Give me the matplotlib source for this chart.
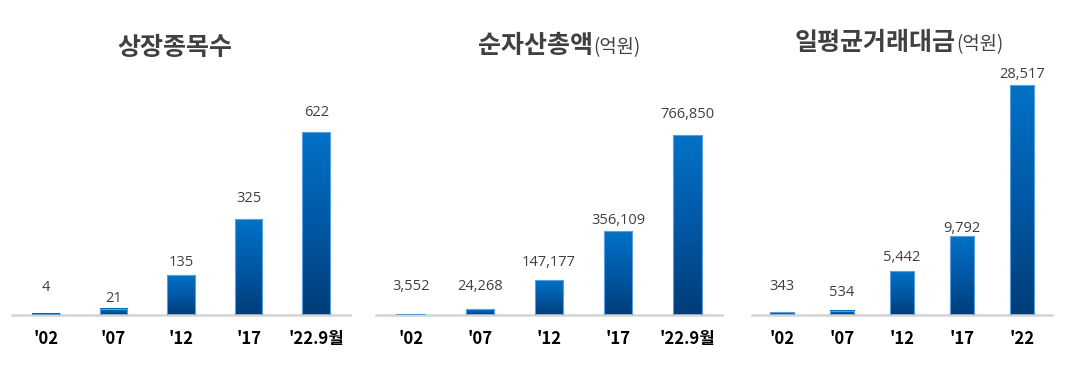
import numpy as np
import matplotlib
matplotlib.use('Agg')
import matplotlib.pyplot as plt
from matplotlib.colors import LinearSegmentedColormap

# data
years_a = ["'02", "'07", "'12", "'17", "'22.9월"]
years_c = ["'02", "'07", "'12", "'17", "'22"]
listed = [4, 21, 135, 325, 622]
net_assets = [3552, 24268, 147177, 356109, 766850]
daily_value = [343, 534, 5442, 9792, 28517]

titles = ['상장종목수', '순자산총액', '일평균거래대금']
units = ['', '(억원)', '(억원)']

plt.rcParams['font.family'] = ['Noto Sans CJK KR', 'DejaVu Sans']

fig = plt.figure(figsize=(10.78, 3.91), dpi=100)

# axes boxes in pixels (left, width) and pixel height of tallest bar
W, H = 1078, 391
boxes = [(12, 338), (376, 346), (752, 300)]
base_px = 315
top_px = 84
max_bar_px = [183, 180, 230]
label_gap_px = [[26, 10, 13, 21, 19],
                [28, 23, 18, 11, 20],
                [26, 18, 14, 8, 10]]
title_pos = [(175, 48, 'center'), (478, 46, 'left'), (795, 43, 'left')]

cmap = LinearSegmentedColormap.from_list('bar', ['#003d78', '#0058a6', '#0072c6'])
grad = np.linspace(0, 1, 256).reshape(-1, 1)

panels = [(years_a, listed), (years_a, net_assets), (years_c, daily_value)]

for i, (labels, vals) in enumerate(panels):
    left, width = boxes[i]
    ax = fig.add_axes([left / W, (H - base_px) / H, width / W, (base_px - top_px) / H])
    x = np.arange(len(vals))
    bw = 0.41
    bars = ax.bar(x, vals, width=bw, color='none', edgecolor='#5aa0e0', linewidth=0.8, zorder=3)
    for b in bars:
        x0, h = b.get_x(), b.get_height()
        ax.imshow(grad, extent=[x0, x0 + bw, 0, h], origin='lower', cmap=cmap,
                  aspect='auto', zorder=2, interpolation='bicubic')
    ymax = max(vals) * (base_px - top_px) / max_bar_px[i]
    ax.set_xlim(-0.5, len(vals) - 0.5)
    ax.set_ylim(0, ymax)
    for j, v in enumerate(vals):
        ax.annotate(f'{v:,}', (x[j], v), xytext=(0, label_gap_px[i][j] * 0.72),
                    textcoords='offset points', ha='center', va='center',
                    fontsize=10.5, color='#404040', family=['Open Sans', 'DejaVu Sans'])
    for s in ['top', 'left', 'right']:
        ax.spines[s].set_visible(False)
    ax.spines['bottom'].set_color('#d4d4d4')
    ax.spines['bottom'].set_linewidth(1.8)
    ax.set_yticks([])
    ax.set_xticks(x)
    ax.set_xticklabels(labels, fontsize=12, fontweight='bold', color='black')
    ax.tick_params(axis='x', length=0, pad=11)

    tx, ty, ha = title_pos[i]
    t = fig.text(tx / W, (H - ty) / H, titles[i], fontsize=18, fontweight='bold',
                 color='#404040', ha=ha, va='center')
    if units[i]:
        ax.annotate(units[i], xy=(1, 0), xycoords=t, ha='left', va='bottom',
                    fontsize=13.5, color='#404040', annotation_clip=False)

fig.savefig('out.png', dpi=100)
